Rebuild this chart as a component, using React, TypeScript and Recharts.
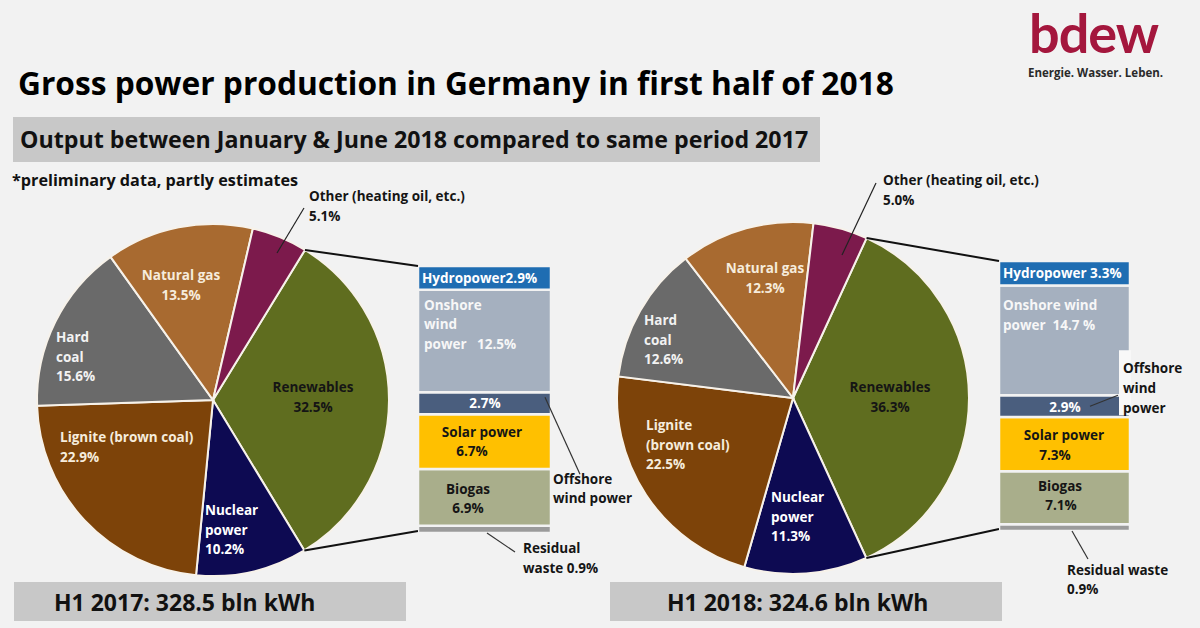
import React from "react";
import { PieChart, Pie, Cell, BarChart, Bar, XAxis, YAxis } from "recharts";

const FONT = "'Open Sans', Lato, sans-serif";
const BG = "#f2f2f2";

// main slices, clockwise starting at the renewables slice
const SOURCES = ["Renewables", "Nuclear power", "Lignite (brown coal)", "Hard coal", "Natural gas", "Other (heating oil, etc.)"];
const SHARES_2017 = [32.5, 10.2, 22.9, 15.6, 13.5, 5.1];
const SHARES_2018 = [36.3, 11.3, 22.5, 12.6, 12.3, 5.0];
const SLICE_COLORS = ["#5f6d1f", "#0d0a52", "#7d4309", "#6a6a6a", "#a86a30", "#7c1a4c"];

// renewables split, bottom to top of the stacked bar
const RENEWABLE_KEYS = ["residual", "biogas", "solar", "offshore", "onshore", "hydro"];
const RENEWABLE_NAMES = ["Residual waste", "Biogas", "Solar power", "Offshore wind power", "Onshore wind power", "Hydropower"];
const RENEWABLES_2017 = [0.9, 6.9, 6.7, 2.7, 12.5, 2.9];
const RENEWABLES_2018 = [0.9, 7.1, 7.3, 2.9, 14.7, 3.3];
const BAR_COLORS = ["#9b9b9b", "#a9ae8b", "#ffc000", "#4a5e7e", "#a5b0bf", "#1f6db2"];

const TOTAL_LABELS = ["H1 2017: 328.5 bln kWh", "H1 2018: 324.6 bln kWh"];

const pct = (v: number) => `${v.toFixed(1)}%`;
const RAD = Math.PI / 180;

type PieLabelSpec = {
    lines: string[];
    dx: number;
    dy: number;
    anchor: "start" | "middle" | "end";
    color: string;
    leader?: number[];
};

type Line = { t: string; x: number; y: number; ref?: number; anchor?: "start" | "middle" | "end"; color?: string };
type SegSpec = {
    color: string;
    lines: Line[];
    leader?: { x1: number; y1: number; x2: number; y2: number; ref1: number; ref2: number };
    notch?: { x: number; y: number; w: number; h: number; ref: number };
};

type Box = { left: number; top: number; w: number; h: number };

const CREAM = "#f6ecdc";
const DARK = "#151515";

function leftPieLabels(s: number[]): PieLabelSpec[] {
    return [
        { lines: ["Renewables", pct(s[0])], dx: 100, dy: -8, anchor: "middle", color: DARK },
        { lines: ["Nuclear", "power", pct(s[1])], dx: -8, dy: 115, anchor: "start", color: "#ffffff" },
        { lines: ["Lignite (brown coal)", pct(s[2])], dx: -153, dy: 42, anchor: "start", color: CREAM },
        { lines: ["Hard", "coal", pct(s[3])], dx: -157, dy: -58, anchor: "start", color: "#f2f2f2" },
        { lines: ["Natural gas", pct(s[4])], dx: -32, dy: -120, anchor: "middle", color: CREAM },
        { lines: ["Other (heating oil, etc.)", pct(s[5])], dx: 96, dy: -199, anchor: "start", color: DARK, leader: [64, -147, 91, -192] },
    ];
}

function rightPieLabels(s: number[]): PieLabelSpec[] {
    return [
        { lines: ["Renewables", pct(s[0])], dx: 97, dy: -6, anchor: "middle", color: DARK },
        { lines: ["Nuclear", "power", pct(s[1])], dx: -22, dy: 104, anchor: "start", color: "#ffffff" },
        { lines: ["Lignite", "(brown coal)", pct(s[2])], dx: -147, dy: 32, anchor: "start", color: CREAM },
        { lines: ["Hard", "coal", pct(s[3])], dx: -149, dy: -73, anchor: "start", color: "#f2f2f2" },
        { lines: ["Natural gas", pct(s[4])], dx: -28, dy: -125, anchor: "middle", color: CREAM },
        { lines: ["Other (heating oil, etc.)", pct(s[5])], dx: 90, dy: -213, anchor: "start", color: DARK, leader: [49, -143, 83, -215] },
    ];
}

function leftSegs(p: number[]): SegSpec[] {
    return [
        {
            color: DARK,
            lines: [
                { t: "Residual", x: 105, y: 20, ref: 1 },
                { t: `waste ${pct(p[0])}`, x: 105, y: 40, ref: 1 },
            ],
            leader: { x1: 69, y1: 0, x2: 97, y2: 19, ref1: 1, ref2: 1 },
        },
        { color: DARK, lines: [{ t: "Biogas", x: 50, y: 25, anchor: "middle" }, { t: pct(p[1]), x: 50, y: 44, anchor: "middle" }] },
        { color: DARK, lines: [{ t: "Solar power", x: 64, y: 23, anchor: "middle" }, { t: pct(p[2]), x: 54, y: 42, anchor: "middle" }] },
        {
            color: "#ffffff",
            lines: [
                { t: pct(p[3]), x: 67, y: 5, ref: 0.5, anchor: "middle" },
                { t: "Offshore", x: 135, y: 92, color: DARK },
                { t: "wind power", x: 135, y: 111, color: DARK },
            ],
            leader: { x1: 127, y1: 5, x2: 162, y2: 82, ref1: 0, ref2: 0 },
        },
        {
            color: "#f7f7f7",
            lines: [
                { t: "Onshore", x: 6, y: 20 },
                { t: "wind", x: 6, y: 39 },
                { t: `power   ${pct(p[4])}`, x: 6, y: 59 },
            ],
        },
        { color: "#ffffff", lines: [{ t: `Hydropower${pct(p[5])}`, x: 4, y: 5, ref: 0.5 }] },
    ];
}

function rightSegs(p: number[]): SegSpec[] {
    return [
        {
            color: DARK,
            lines: [
                { t: "Residual waste", x: 68, y: 44, ref: 1 },
                { t: pct(p[0]), x: 68, y: 63, ref: 1 },
            ],
            leader: { x1: 73, y1: 0, x2: 89, y2: 28, ref1: 1, ref2: 1 },
        },
        { color: DARK, lines: [{ t: "Biogas", x: 61, y: 20, anchor: "middle" }, { t: pct(p[1]), x: 62, y: 39, anchor: "middle" }] },
        { color: DARK, lines: [{ t: "Solar power", x: 65, y: 23, anchor: "middle" }, { t: pct(p[2]), x: 56, y: 43, anchor: "middle" }] },
        { color: "#ffffff", lines: [{ t: pct(p[3]), x: 66, y: 6, ref: 0.5, anchor: "middle" }] },
        {
            color: "#f7f7f7",
            lines: [
                { t: "Onshore wind", x: 4, y: 24 },
                { t: `power  ${p[4].toFixed(1)} %`, x: 4, y: 44 },
                { t: "Offshore", x: 124, y: -22, ref: 1, color: DARK },
                { t: "wind", x: 124, y: -2, ref: 1, color: DARK },
                { t: "power", x: 124, y: 18, ref: 1, color: DARK },
            ],
            leader: { x1: 91, y1: 11, x2: 119, y2: 0, ref1: 1, ref2: 1 },
            notch: { x: 120, y: -45, w: 12, h: 65, ref: 1 },
        },
        { color: "#ffffff", lines: [{ t: `Hydropower ${pct(p[5])}`, x: 4, y: 5, ref: 0.5 }] },
    ];
}

function makeSegLabel(spec: SegSpec) {
    return (props: any) => {
        const x = Number(props.x);
        const y = Number(props.y);
        const h = Number(props.height);
        return (
            <g>
                {spec.notch && (
                    <rect x={x + spec.notch.x} y={y + h * spec.notch.ref + spec.notch.y} width={spec.notch.w} height={spec.notch.h} fill="#f8f8f8" />
                )}
                {spec.leader && (
                    <line
                        x1={x + spec.leader.x1}
                        y1={y + h * spec.leader.ref1 + spec.leader.y1}
                        x2={x + spec.leader.x2}
                        y2={y + h * spec.leader.ref2 + spec.leader.y2}
                        stroke="#333"
                        strokeWidth={1.2}
                    />
                )}
                {spec.lines.map((l, i) => (
                    <text
                        key={i}
                        x={x + l.x}
                        y={y + h * (l.ref ?? 0) + l.y}
                        textAnchor={l.anchor ?? "start"}
                        fill={l.color ?? spec.color}
                        fontFamily={FONT}
                        fontWeight={700}
                        fontSize={13.5}
                        style={{ whiteSpace: "pre" }}
                    >
                        {l.t}
                    </text>
                ))}
            </g>
        );
    };
}

type PanelProps = {
    shares: number[];
    parts: number[];
    pieBox: Box;
    cx: number;
    cy: number;
    start: number;
    barBox: Box;
    plotW: number;
    plotH: number;
    pieLabels: PieLabelSpec[];
    segs: SegSpec[];
};

function Panel({ shares, parts, pieBox, cx, cy, start, barBox, plotW, plotH, pieLabels, segs }: PanelProps) {
    const pieData = SOURCES.map((name, i) => ({ name, value: shares[i] }));
    const row: Record<string, number | string> = { name: "Renewables" };
    RENEWABLE_KEYS.forEach((k, i) => (row[k] = parts[i]));
    const total = parts.reduce((a, b) => a + b, 0);

    // bar corners in pie chart coordinates, for the connector lines
    const barTop = { x: barBox.left - pieBox.left, y: barBox.top - pieBox.top };
    const barBottom = { x: barBox.left - pieBox.left, y: barBox.top + plotH - pieBox.top - 2 };

    const renderPieLabel = (props: any) => {
        const { index, midAngle, outerRadius, percent } = props;
        const pcx = Number(props.cx);
        const pcy = Number(props.cy);
        const s = pieLabels[index];
        let connectors = null;
        if (index === 0) {
            const half = percent * 180;
            const pt = (a: number) => [pcx + outerRadius * Math.cos(-a * RAD), pcy + outerRadius * Math.sin(-a * RAD)];
            const [t, b] = [pt(midAngle + half), pt(midAngle - half)].sort((u, v) => u[1] - v[1]);
            connectors = (
                <g stroke="#111" strokeWidth={2}>
                    <line x1={t[0]} y1={t[1]} x2={barTop.x} y2={barTop.y} />
                    <line x1={b[0]} y1={b[1]} x2={barBottom.x} y2={barBottom.y} />
                </g>
            );
        }
        return (
            <g>
                {connectors}
                {s.leader && (
                    <line x1={pcx + s.leader[0]} y1={pcy + s.leader[1]} x2={pcx + s.leader[2]} y2={pcy + s.leader[3]} stroke="#222" strokeWidth={1.2} />
                )}
                {s.lines.map((t, i) => (
                    <text
                        key={i}
                        x={pcx + s.dx}
                        y={pcy + s.dy + i * 19.5}
                        textAnchor={s.anchor}
                        fill={s.color}
                        fontFamily={FONT}
                        fontWeight={700}
                        fontSize={13.5}
                    >
                        {t}
                    </text>
                ))}
            </g>
        );
    };

    return (
        <>
            <div style={{ position: "absolute", left: pieBox.left, top: pieBox.top }}>
                <PieChart width={pieBox.w} height={pieBox.h} margin={{ top: 0, right: 0, bottom: 0, left: 0 }}>
                    <Pie
                        data={pieData}
                        dataKey="value"
                        nameKey="name"
                        cx={cx}
                        cy={cy}
                        outerRadius={176}
                        startAngle={start}
                        endAngle={start - 360}
                        stroke="#f7f2ea"
                        strokeWidth={2}
                        label={renderPieLabel}
                        labelLine={false}
                        isAnimationActive={false}
                    >
                        {pieData.map((d, i) => (
                            <Cell key={d.name} fill={SLICE_COLORS[i]} />
                        ))}
                    </Pie>
                </PieChart>
            </div>
            <div style={{ position: "absolute", left: barBox.left, top: barBox.top }}>
                <BarChart
                    width={barBox.w}
                    height={barBox.h}
                    data={[row]}
                    margin={{ top: 0, right: barBox.w - plotW, bottom: barBox.h - plotH, left: 0 }}
                    barCategoryGap={0}
                >
                    <XAxis dataKey="name" hide />
                    <YAxis hide domain={[0, total]} />
                    {RENEWABLE_KEYS.map((k, i) => (
                        <Bar
                            key={k}
                            dataKey={k}
                            name={RENEWABLE_NAMES[i]}
                            stackId="ren"
                            fill={BAR_COLORS[i]}
                            stroke={BG}
                            strokeWidth={2.5}
                            label={makeSegLabel(segs[i])}
                            isAnimationActive={false}
                        />
                    ))}
                </BarChart>
            </div>
        </>
    );
}

export default function App() {
    return (
        <div style={{ position: "relative", width: 1200, height: 628, background: BG, overflow: "hidden", fontFamily: FONT }}>
            <style>{`body{margin:0}`}</style>
            <svg width={1200} height={628} style={{ position: "absolute", left: 0, top: 0 }} fontFamily={FONT}>
                <text x={1029} y={53} fontSize={54} fontWeight={700} fill="#a4173d" letterSpacing={-1} fontFamily="Lato, sans-serif">
                    bdew
                </text>
                <text x={1028} y={77} fontSize={11.5} fontWeight={700} fill="#2a2a2a">
                    Energie. Wasser. Leben.
                </text>
                <text x={18} y={95} fontSize={31.7} fontWeight={700} fill="#000">
                    Gross power production in Germany in first half of 2018
                </text>
                <rect x={13} y={117} width={807} height={45} fill="#c8c8c8" />
                <text x={20} y={148} fontSize={23.2} fontWeight={700} fill="#111">
                    Output between January &amp; June 2018 compared to same period 2017
                </text>
                <text x={12} y={186} fontSize={16.2} fontWeight={700} fill="#111">
                    *preliminary data, partly estimates
                </text>
                <rect x={14} y={582} width={392} height={39} fill="#c8c8c8" />
                <text x={54} y={611} fontSize={23} fontWeight={700} fill="#111">
                    {TOTAL_LABELS[0]}
                </text>
                <rect x={610} y={582} width={392} height={39} fill="#c8c8c8" />
                <text x={667} y={611} fontSize={23} fontWeight={700} fill="#111">
                    {TOTAL_LABELS[1]}
                </text>
            </svg>
            <Panel
                shares={SHARES_2017}
                parts={RENEWABLES_2017}
                pieBox={{ left: 0, top: 160, w: 600, h: 440 }}
                cx={213}
                cy={240}
                start={58.5}
                barBox={{ left: 418, top: 266, w: 240, h: 340 }}
                plotW={133}
                plotH={267}
                pieLabels={leftPieLabels(SHARES_2017)}
                segs={leftSegs(RENEWABLES_2017)}
            />
            <Panel
                shares={SHARES_2018}
                parts={RENEWABLES_2018}
                pieBox={{ left: 600, top: 160, w: 600, h: 440 }}
                cx={193}
                cy={238}
                start={65.3}
                barBox={{ left: 999, top: 261, w: 201, h: 345 }}
                plotW={131}
                plotH={270}
                pieLabels={rightPieLabels(SHARES_2018)}
                segs={rightSegs(RENEWABLES_2018)}
            />
        </div>
    );
}
